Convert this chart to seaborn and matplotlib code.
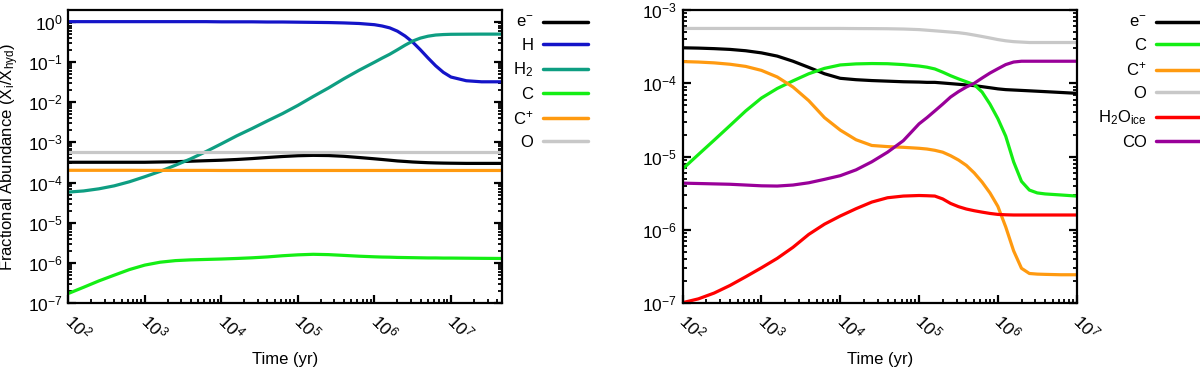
import numpy as np
import pandas as pd
import seaborn as sns
from matplotlib import pyplot as plt
from matplotlib.ticker import LogLocator, NullFormatter

# ---- left panel data (time in log10 yr) ----
log_t_left = [2.0, 2.2, 2.4, 2.6, 2.8, 3.0, 3.2, 3.4, 3.6, 3.8, 4.0, 4.2, 4.4, 4.6, 4.8,
              5.0, 5.2, 5.4, 5.6, 5.8, 6.0, 6.1, 6.2, 6.3, 6.4, 6.5, 6.6, 6.7, 6.8, 6.9,
              7.0, 7.2, 7.4, 7.66]
eminus_left = [3.2e-4, 3.2e-4, 3.2e-4, 3.2e-4, 3.2e-4, 3.2e-4, 3.25e-4, 3.3e-4, 3.4e-4, 3.5e-4,
               3.6e-4, 3.75e-4, 3.95e-4, 4.2e-4, 4.45e-4, 4.65e-4, 4.75e-4, 4.7e-4, 4.5e-4, 4.2e-4,
               3.9e-4, 3.75e-4, 3.6e-4, 3.45e-4, 3.35e-4, 3.25e-4, 3.18e-4, 3.12e-4, 3.08e-4, 3.05e-4,
               3.03e-4, 3.0e-4, 3.0e-4, 3.0e-4]
H_left = [1.0, 1.0, 1.0, 1.0, 1.0, 1.0, 1.0, 1.0, 1.0, 1.0,
          0.99, 0.99, 0.99, 0.98, 0.98, 0.97, 0.96, 0.95, 0.93, 0.90,
          0.84, 0.78, 0.70, 0.58, 0.44, 0.31, 0.20, 0.125, 0.08, 0.055,
          0.042, 0.034, 0.032, 0.032]
H2_left = [5.8e-5, 6.2e-5, 7.0e-5, 8.3e-5, 1.05e-4, 1.4e-4, 1.9e-4, 2.7e-4, 3.9e-4, 5.9e-4,
           9.2e-4, 1.45e-3, 2.2e-3, 3.4e-3, 5.2e-3, 8.3e-3, 0.0138, 0.0225, 0.038, 0.062,
           0.098, 0.124, 0.155, 0.20, 0.26, 0.33, 0.39, 0.435, 0.465, 0.478,
           0.485, 0.488, 0.49, 0.49]
C_left = [1.75e-7, 2.5e-7, 3.6e-7, 5.0e-7, 6.9e-7, 8.9e-7, 1.05e-6, 1.15e-6, 1.2e-6, 1.23e-6,
          1.26e-6, 1.3e-6, 1.35e-6, 1.42e-6, 1.52e-6, 1.6e-6, 1.65e-6, 1.62e-6, 1.55e-6, 1.48e-6,
          1.43e-6, 1.41e-6, 1.4e-6, 1.38e-6, 1.37e-6, 1.36e-6, 1.35e-6, 1.34e-6, 1.34e-6, 1.33e-6,
          1.33e-6, 1.32e-6, 1.31e-6, 1.3e-6]
Cplus_left = [2.02e-4, 2.02e-4, 2.02e-4, 2.02e-4, 2.02e-4, 2.01e-4, 2.01e-4, 2.01e-4, 2.01e-4, 2.01e-4,
              2.0e-4, 2.0e-4, 2.0e-4, 2.0e-4, 2.0e-4, 2.0e-4, 2.0e-4, 2.0e-4, 2.0e-4, 2.0e-4,
              2.0e-4, 2.0e-4, 2.0e-4, 2.0e-4, 2.0e-4, 2.0e-4, 2.0e-4, 2.0e-4, 2.0e-4, 2.0e-4,
              2.0e-4, 2.0e-4, 2.0e-4, 2.0e-4]
O_left = [5.6e-4] * len(log_t_left)

# ---- right panel data ----
log_t_right = [2.0, 2.2, 2.4, 2.6, 2.8, 3.0, 3.2, 3.4, 3.6, 3.8, 4.0, 4.2, 4.4, 4.6, 4.8,
               5.0, 5.1, 5.2, 5.3, 5.4, 5.5, 5.6, 5.7, 5.8, 5.9, 6.0, 6.1, 6.2, 6.3, 6.4,
               6.5, 6.6, 6.8, 7.0]
eminus_right = [3.05e-4, 3.02e-4, 2.97e-4, 2.9e-4, 2.78e-4, 2.6e-4, 2.35e-4, 2.0e-4, 1.65e-4, 1.35e-4,
                1.17e-4, 1.12e-4, 1.09e-4, 1.07e-4, 1.05e-4, 1.04e-4, 1.03e-4, 1.03e-4, 1.01e-4, 9.9e-5,
                9.7e-5, 9.5e-5, 9.3e-5, 9.0e-5, 8.7e-5, 8.4e-5, 8.2e-5, 8.1e-5, 8.0e-5, 7.9e-5,
                7.8e-5, 7.7e-5, 7.5e-5, 7.3e-5]
C_right = [6.8e-6, 1.07e-5, 1.68e-5, 2.65e-5, 4.2e-5, 6.3e-5, 8.5e-5, 1.08e-4, 1.35e-4, 1.6e-4,
           1.78e-4, 1.84e-4, 1.86e-4, 1.85e-4, 1.8e-4, 1.72e-4, 1.66e-4, 1.57e-4, 1.42e-4, 1.27e-4,
           1.15e-4, 1.05e-4, 9.6e-5, 7.6e-5, 5.2e-5, 3.3e-5, 1.9e-5, 8.5e-6, 4.6e-6, 3.5e-6,
           3.2e-6, 3.1e-6, 3.0e-6, 2.9e-6]
Cplus_right = [1.98e-4, 1.95e-4, 1.9e-4, 1.82e-4, 1.7e-4, 1.5e-4, 1.22e-4, 8.9e-5, 5.8e-5, 3.4e-5,
               2.3e-5, 1.7e-5, 1.42e-5, 1.37e-5, 1.34e-5, 1.3e-5, 1.27e-5, 1.22e-5, 1.15e-5, 1.03e-5,
               9.0e-6, 7.6e-6, 6.0e-6, 4.5e-6, 3.2e-6, 2.1e-6, 1.1e-6, 5.2e-7, 3.0e-7, 2.55e-7,
               2.5e-7, 2.48e-7, 2.45e-7, 2.45e-7]
O_right = [5.6e-4, 5.6e-4, 5.6e-4, 5.6e-4, 5.6e-4, 5.6e-4, 5.6e-4, 5.6e-4, 5.6e-4, 5.6e-4,
           5.6e-4, 5.58e-4, 5.57e-4, 5.55e-4, 5.5e-4, 5.4e-4, 5.3e-4, 5.2e-4, 5.1e-4, 5.0e-4,
           4.9e-4, 4.75e-4, 4.55e-4, 4.35e-4, 4.15e-4, 3.95e-4, 3.8e-4, 3.7e-4, 3.65e-4, 3.6e-4,
           3.6e-4, 3.6e-4, 3.6e-4, 3.6e-4]
H2Oice_right = [1.02e-7, 1.15e-7, 1.38e-7, 1.75e-7, 2.3e-7, 3.05e-7, 4.1e-7, 5.8e-7, 8.7e-7, 1.2e-6,
                1.55e-6, 1.95e-6, 2.4e-6, 2.75e-6, 2.9e-6, 2.95e-6, 2.93e-6, 2.9e-6, 2.65e-6, 2.3e-6,
                2.08e-6, 1.93e-6, 1.83e-6, 1.75e-6, 1.68e-6, 1.63e-6, 1.61e-6, 1.6e-6, 1.6e-6, 1.6e-6,
                1.6e-6, 1.6e-6, 1.6e-6, 1.6e-6]
CO_right = [4.35e-6, 4.3e-6, 4.25e-6, 4.2e-6, 4.1e-6, 4.0e-6, 3.97e-6, 4.1e-6, 4.4e-6, 4.9e-6,
            5.5e-6, 6.6e-6, 8.5e-6, 1.15e-5, 1.65e-5, 2.8e-5, 3.4e-5, 4.2e-5, 5.2e-5, 6.5e-5,
            7.7e-5, 8.9e-5, 1.0e-4, 1.18e-4, 1.38e-4, 1.58e-4, 1.8e-4, 1.95e-4, 2.0e-4, 2.0e-4,
            2.0e-4, 2.0e-4, 2.0e-4, 2.0e-4]

left_species = ['e-', 'H', 'H2', 'C', 'C+', 'O']
left_values = [eminus_left, H_left, H2_left, C_left, Cplus_left, O_left]
right_species = ['e-', 'C', 'C+', 'O', 'H2Oice', 'CO']
right_values = [eminus_right, C_right, Cplus_right, O_right, H2Oice_right, CO_right]

labels = {'e-': r'e$^{-}$', 'H': 'H', 'H2': r'H$_{2}$', 'C': 'C', 'C+': r'C$^{+}$',
          'O': 'O', 'H2Oice': r'H$_{2}$O$_{ice}$', 'CO': 'CO'}
colors = {'e-': '#000000', 'H': '#1414c8', 'H2': '#0e9e82', 'C': '#14ee14',
          'C+': '#ff9a10', 'O': '#c8c8c8', 'H2Oice': '#ff0000', 'CO': '#990099'}


def make_frame(log_t, species, values):
    rows = []
    for sp, vals in zip(species, values):
        for lt, v in zip(log_t, vals):
            rows.append({'time': 10 ** lt, 'abundance': v, 'species': sp})
    return pd.DataFrame(rows)


sns.set_style('white')
plt.rcParams['font.family'] = ['Liberation Sans', 'DejaVu Sans']
plt.rcParams['mathtext.fontset'] = 'custom'
plt.rcParams['mathtext.rm'] = 'Liberation Sans'
plt.rcParams['mathtext.it'] = 'Liberation Sans:italic'
plt.rcParams['mathtext.default'] = 'regular'
plt.rcParams['text.color'] = 'black'
plt.rcParams['axes.labelcolor'] = 'black'
plt.rcParams['xtick.color'] = 'black'
plt.rcParams['ytick.color'] = 'black'

fig = plt.figure(figsize=(12, 3.67), dpi=100)
ax1 = fig.add_axes([0.0569, 0.1736, 0.3612, 0.7992])
ax2 = fig.add_axes([0.5689, 0.1736, 0.3283, 0.7992])

panels = [
    (ax1, log_t_left, left_species, left_values, (1e2, 4.6e7), (1e-7, 1.95), 1.198),
    (ax2, log_t_right, right_species, right_values, (1e2, 1e7), (1e-7, 1e-3), 1.315),
]

for ax, log_t, species, values, xlim, ylim, leg_x in panels:
    df = make_frame(log_t, species, values)
    sns.lineplot(data=df, x='time', y='abundance', hue='species', hue_order=species,
                 palette=colors, estimator=None, sort=True, lw=2.3, ax=ax, legend=False)
    ax.set_xscale('log')
    ax.set_yscale('log')
    ax.set_xlim(*xlim)
    ax.set_ylim(*ylim)
    for s in ax.spines.values():
        s.set_linewidth(1.6)
        s.set_color('black')
    ax.xaxis.set_major_locator(LogLocator(base=10, numticks=20))
    ax.xaxis.set_minor_locator(LogLocator(base=10, subs=np.arange(2, 10), numticks=20))
    ax.xaxis.set_minor_formatter(NullFormatter())
    ax.yaxis.set_major_locator(LogLocator(base=10, numticks=20))
    ax.yaxis.set_minor_locator(LogLocator(base=10, subs=np.arange(2, 10), numticks=20))
    ax.yaxis.set_minor_formatter(NullFormatter())
    ax.tick_params(axis='both', which='major', direction='in', length=6, width=1.6,
                   labelsize=12.5, color='black', labelcolor='black')
    ax.tick_params(axis='both', which='minor', direction='in', length=3, width=1.3,
                   color='black')
    ax.tick_params(axis='y', which='both', left=True, right=True, pad=4)
    ax.tick_params(axis='x', which='both', bottom=True, top=False, pad=10)
    for lab in ax.get_xticklabels():
        lab.set_rotation(-45)
        lab.set_rotation_mode('anchor')
        lab.set_ha('left')
        lab.set_va('center')
    ax.set_xlabel('Time (yr)', fontsize=12)
    ax.xaxis.set_label_coords(0.5, -0.165)
    ax.set_ylabel('')

    handles = [plt.Line2D([], [], color=colors[sp], lw=2.5) for sp in species]
    ax.legend(handles, [labels[sp] for sp in species], loc='upper right',
              bbox_to_anchor=(leg_x, 0.982), frameon=False, markerfirst=False,
              fontsize=12, handlelength=2.7, handletextpad=0.55, labelspacing=0.45,
              borderpad=0.0, borderaxespad=0.0)

ax1.set_ylabel(r'Fractional Abundance (X$_{i}$/X$_{hyd}$)', fontsize=12)
ax1.yaxis.set_label_coords(-0.108, 0.5)

plt.savefig('out.png', dpi=100)
